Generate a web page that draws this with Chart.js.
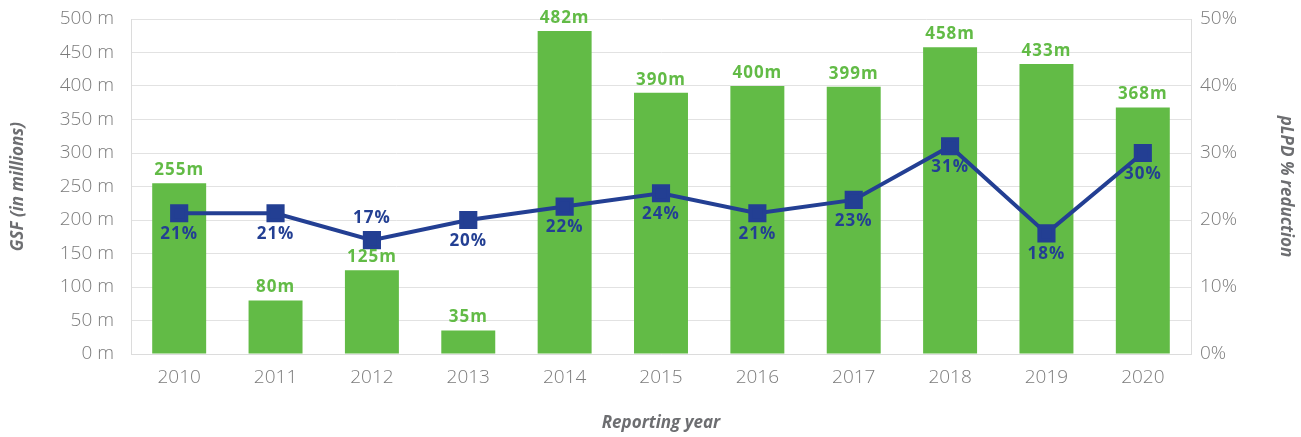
<!DOCTYPE html>
<html>
<head>
<meta charset="utf-8">
<script src="https://cdn.jsdelivr.net/npm/chart.js@4.4.1/dist/chart.umd.min.js"></script>
<style>
  html, body { margin: 0; padding: 0; background: #fff; }
  #wrap { width: 1301px; height: 437px; }
</style>
</head>
<body>
<div id="wrap"><canvas id="myChart"></canvas></div>
<script>
// data
var years = ["2010", "2011", "2012", "2013", "2014", "2015", "2016", "2017", "2018", "2019", "2020"];
var gsf = [255, 80, 125, 35, 482, 390, 400, 399, 458, 433, 368];
var reduction = [21, 21, 17, 20, 22, 24, 21, 23, 31, 18, 30];
// which percentage labels sit above their point (the rest go below)
var labelAbove = [false, false, true, false, false, false, false, false, false, false, false];

var green = "#62bb46";
var navy = "#233f93";
var tickGrey = "#7b7b7b";
var titleGrey = "#6d6e71";

// draws the value labels for bars and points
var valueLabels = {
  id: "valueLabels",
  afterDatasetsDraw: function (chart) {
    var ctx = chart.ctx;
    ctx.save();
    ctx.textAlign = "center";
    ctx.textBaseline = "middle";
    ctx.letterSpacing = "1px";
    ctx.font = "bold 17px 'Open Sans'";

    chart.getDatasetMeta(1).data.forEach(function (bar, i) {
      ctx.fillStyle = green;
      ctx.fillText(gsf[i] + "m", bar.x, bar.y - 13);
    });

    chart.getDatasetMeta(0).data.forEach(function (pt, i) {
      ctx.fillStyle = navy;
      var dy = labelAbove[i] ? -22 : 21;
      ctx.fillText(reduction[i] + "%", pt.x, pt.y + dy);
    });
    ctx.restore();
  },
};

var tickFont = { family: "Open Sans", size: 19, weight: "300", lineHeight: 1 };
var titleFont = { family: "Open Sans", size: 17, weight: "bold", style: "italic" };

window.onload = function () {
  var ctx = document.getElementById("myChart").getContext("2d");
  var myChart = new Chart(ctx, {
    data: {
      labels: years,
      datasets: [
        {
          type: "line",
          label: "pLPD % reduction",
          data: reduction,
          yAxisID: "y1",
          borderColor: navy,
          backgroundColor: navy,
          borderWidth: 4,
          pointStyle: "rect",
          pointRadius: 10,
          pointHoverRadius: 10,
          tension: 0,
          fill: false,
          order: 0,
        },
        {
          type: "bar",
          label: "GSF",
          data: gsf,
          yAxisID: "y",
          backgroundColor: green,
          barPercentage: 0.56,
          categoryPercentage: 1,
          order: 1,
        },
      ],
    },
    options: {
      responsive: true,
      maintainAspectRatio: false,
      animation: false,
      layout: { padding: { top: 19, left: 0, right: 0, bottom: 0 } },
      plugins: {
        legend: { display: false },
        tooltip: { enabled: false },
      },
      scales: {
        x: {
          grid: { display: false, drawTicks: false },
          border: { color: "#dcdcdc", width: 1 },
          ticks: {
            color: tickGrey,
            font: tickFont,
            padding: 14,
          },
          title: {
            display: true,
            text: "Reporting year",
            color: titleGrey,
            font: titleFont,
            padding: { top: 14 },
          },
          afterFit: function (scale) {
            scale.height = 83;
          },
        },
        y: {
          position: "left",
          min: 0,
          max: 500,
          ticks: {
            stepSize: 50,
            color: tickGrey,
            font: tickFont,
            padding: 2,
            callback: function (v) {
              return v + " m";
            },
          },
          grid: {
            color: "#e2e2e2",
            lineWidth: 1,
            drawTicks: true,
            tickLength: 15,
            tickColor: "rgba(0,0,0,0)",
          },
          border: { color: "#dcdcdc", width: 1 },
          title: {
            display: true,
            text: "GSF (in millions)",
            color: titleGrey,
            font: titleFont,
            padding: { top: 8, bottom: 0 },
          },
          afterFit: function (scale) {
            scale.width = 131;
          },
        },
        y1: {
          position: "right",
          min: 0,
          max: 50,
          ticks: {
            stepSize: 10,
            color: tickGrey,
            font: tickFont,
            padding: 2,
            callback: function (v) {
              return v + "%";
            },
          },
          grid: {
            drawOnChartArea: false,
            drawTicks: true,
            tickLength: 7,
            tickColor: "rgba(0,0,0,0)",
          },
          border: { color: "#dcdcdc", width: 1 },
          title: {
            display: true,
            text: "pLPD % reduction",
            color: titleGrey,
            font: titleFont,
            padding: { top: 5, bottom: 0 },
          },
          afterFit: function (scale) {
            scale.width = 110;
          },
        },
      },
    },
    plugins: [valueLabels],
  });
};
</script>
</body>
</html>
